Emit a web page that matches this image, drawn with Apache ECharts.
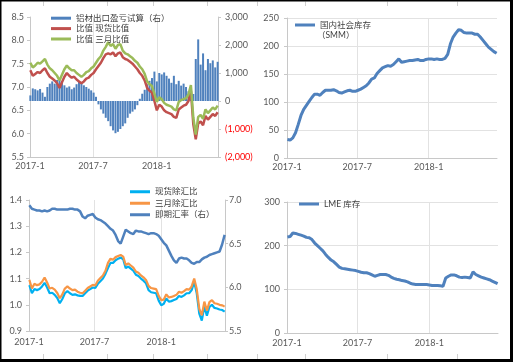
<!DOCTYPE html>
<html><head><meta charset="utf-8">
<script src="https://cdn.jsdelivr.net/npm/echarts@6/dist/echarts.min.js"></script>
<style>html,body{margin:0;padding:0;background:#fff}#c{width:513px;height:362px}</style>
</head><body><div id="c"></div><script>
var weeks = ['2017-01-02','2017-01-09','2017-01-16','2017-01-23','2017-01-30','2017-02-06','2017-02-13','2017-02-20','2017-02-27','2017-03-06','2017-03-13','2017-03-20','2017-03-27','2017-04-03','2017-04-10','2017-04-17','2017-04-24','2017-05-01','2017-05-08','2017-05-15','2017-05-22','2017-05-29','2017-06-05','2017-06-12','2017-06-19','2017-06-26','2017-07-03','2017-07-10','2017-07-17','2017-07-24','2017-07-31','2017-08-07','2017-08-14','2017-08-21','2017-08-28','2017-09-04','2017-09-11','2017-09-18','2017-09-25','2017-10-02','2017-10-09','2017-10-16','2017-10-23','2017-10-30','2017-11-06','2017-11-13','2017-11-20','2017-11-27','2017-12-04','2017-12-11','2017-12-18','2017-12-25','2018-01-01','2018-01-08','2018-01-15','2018-01-22','2018-01-29','2018-02-05','2018-02-12','2018-02-19','2018-02-26','2018-03-05','2018-03-12','2018-03-19','2018-03-26','2018-04-02','2018-04-09','2018-04-16','2018-04-23','2018-04-30','2018-05-07','2018-05-14','2018-05-21','2018-05-28','2018-06-04','2018-06-11','2018-06-18','2018-06-25'];
var tickDates = ['2017-01-01','2017-07-01','2018-01-01'];

// top-left
var alExportPL = [200,450,420,380,430,300,150,500,620,700,620,750,720,640,560,480,520,420,480,600,700,640,560,500,440,380,300,150,-120,-300,-450,-600,-720,-900,-1050,-1150,-1100,-1000,-900,-800,-600,-450,-380,-300,-150,80,260,400,600,720,820,1050,700,1000,950,1020,900,800,650,900,600,720,550,620,500,350,150,250,1500,2200,1300,1700,1100,1500,1350,1450,1200,1400];
var spotRatio = [7.36,7.24,7.28,7.32,7.30,7.36,7.40,7.30,7.22,7.18,7.14,7.08,6.98,7.10,7.22,7.30,7.24,7.20,7.22,7.16,7.12,7.08,7.12,7.18,7.20,7.26,7.30,7.38,7.45,7.52,7.62,7.70,7.72,7.70,7.74,7.66,7.72,7.74,7.64,7.60,7.58,7.54,7.50,7.44,7.38,7.30,7.24,7.14,6.98,6.92,6.88,6.70,6.50,6.62,6.58,6.50,6.46,6.44,6.42,6.36,6.34,6.52,6.56,6.60,6.62,6.70,6.92,6.20,5.88,6.22,6.26,6.18,6.38,6.30,6.36,6.42,6.38,6.46];
var m3Ratio = [7.52,7.42,7.46,7.52,7.50,7.55,7.60,7.48,7.40,7.36,7.30,7.24,7.14,7.26,7.38,7.46,7.40,7.36,7.36,7.30,7.26,7.22,7.26,7.32,7.34,7.40,7.44,7.52,7.60,7.66,7.78,7.86,7.96,7.88,7.92,7.82,7.90,7.92,7.78,7.72,7.70,7.66,7.62,7.56,7.52,7.44,7.38,7.28,7.12,7.06,7.02,6.86,6.68,6.78,6.74,6.66,6.62,6.60,6.58,6.52,6.50,6.68,6.72,6.74,6.76,6.84,7.04,6.34,5.98,6.36,6.40,6.32,6.52,6.44,6.50,6.56,6.52,6.60];
// top-right
var smmStock = [33,32,36,45,60,76,87,94,101,108,114,114,112,117,121,121,121,122,120,117,116,118,120,121,119,119,121,123,126,129,134,141,143,151,156,161,163,165,164,167,172,177,171,172,173,174,174,175,176,174,174,176,177,177,176,177,176,176,178,185,204,216,223,229,228,224,223,223,223,221,221,216,210,204,198,194,190,187];
// bottom-left
var spotFx = [1.075,1.044,1.060,1.056,1.060,1.070,1.084,1.066,1.044,1.046,1.038,1.026,1.006,1.022,1.044,1.052,1.044,1.038,1.040,1.036,1.034,1.034,1.044,1.054,1.060,1.066,1.064,1.080,1.090,1.100,1.118,1.140,1.160,1.160,1.170,1.176,1.180,1.174,1.140,1.146,1.138,1.130,1.115,1.110,1.100,1.092,1.082,1.056,1.048,1.046,1.044,1.016,0.998,1.004,1.024,1.012,1.014,1.018,1.022,1.034,1.030,1.036,1.044,1.044,1.056,1.088,1.044,0.966,0.940,0.994,0.958,0.992,1.000,0.988,0.986,0.982,0.980,0.974];
var m3Fx = [1.095,1.062,1.080,1.075,1.078,1.088,1.104,1.085,1.062,1.065,1.058,1.045,1.025,1.040,1.062,1.070,1.062,1.056,1.058,1.050,1.046,1.044,1.054,1.064,1.070,1.076,1.074,1.092,1.102,1.112,1.130,1.160,1.176,1.172,1.182,1.186,1.190,1.184,1.152,1.158,1.150,1.142,1.127,1.122,1.112,1.105,1.095,1.072,1.064,1.062,1.060,1.034,1.018,1.020,1.040,1.028,1.030,1.034,1.038,1.050,1.046,1.052,1.060,1.058,1.070,1.100,1.060,0.985,0.960,1.012,0.978,1.010,1.018,1.006,1.004,1.000,0.998,0.993];
var fxRate = [6.94,6.90,6.89,6.88,6.88,6.87,6.88,6.87,6.88,6.90,6.90,6.89,6.89,6.89,6.89,6.89,6.90,6.90,6.89,6.89,6.87,6.81,6.79,6.82,6.83,6.84,6.80,6.78,6.77,6.75,6.73,6.70,6.67,6.65,6.60,6.53,6.50,6.58,6.66,6.64,6.62,6.61,6.65,6.64,6.64,6.63,6.62,6.61,6.62,6.62,6.61,6.59,6.55,6.51,6.48,6.42,6.36,6.31,6.28,6.33,6.34,6.33,6.33,6.31,6.28,6.27,6.29,6.29,6.32,6.34,6.35,6.37,6.38,6.39,6.40,6.41,6.49,6.60];
// bottom-right
var lmeStock = [220,221,229,228,226,224,222,219,218,214,206,200,194,188,180,173,167,163,157,151,148,147,146,145,144,143,141,139,138,138,136,133,130,132,134,134,134,132,128,125,123,122,120,119,117,114,112,111,111,111,111,111,110,109,109,109,108,107,126,130,133,133,131,128,127,128,127,126,140,134,131,128,126,124,122,119,116,113];

var FONT = 'Lato, "Noto Sans CJK SC", sans-serif';
var LBL = '#595959', AX = '#c8c8c8', SPL = '#e2e2e2';
function ts(s){var p=s.split('-');return +new Date(+p[0],+p[1]-1,+p[2]);}
function pairs(vals){return vals.map(function(v,i){return [ts(weeks[i]), v];});}
var tickTs = tickDates.map(ts);
var xMin = ts('2017-01-01'), xMax = ts('2018-06-26');
function xAxis(g, margin){
  return {type:'value', gridIndex:g, min:xMin, max:xMax, scale:true,
    axisLine:{show:true, onZero:false, lineStyle:{color:AX}},
    axisTick:{show:false, customValues:tickTs},
    axisLabel:{customValues:tickTs, margin:margin, color:LBL, fontSize:9, fontFamily:FONT,
      formatter:function(v){var d=new Date(+v);return d.getFullYear()+'-'+(d.getMonth()+1);}},
    splitLine:{show:true, lineStyle:{color:SPL}}};
}
function yAxis(g, o){
  var base = {type:'value', gridIndex:g,
    axisLine:{show:true, lineStyle:{color:AX}},
    axisTick:{show:true, length:3, lineStyle:{color:AX}},
    axisLabel:{color:LBL, fontSize:9, fontFamily:FONT},
    splitLine:{show:false, lineStyle:{color:SPL}}};
  for (var k in o){ if (typeof o[k]==='object' && base[k]) Object.assign(base[k], o[k]); else base[k]=o[k]; }
  return base;
}
function fmtK(n){return n.toString().replace(/\B(?=(\d{3})+(?!\d))/g, ',');}
var legBase = {orient:'vertical', icon:'rect', itemWidth:20, itemHeight:3, itemGap:0, padding:0,
  textStyle:{fontSize:8.5, color:'#404040', fontFamily:FONT}};
function leg(o, lh){var l = JSON.parse(JSON.stringify(legBase)); Object.assign(l, o); l.textStyle.lineHeight = lh; return l;}

var deco = [];
[43,107,153,207,257,305,387,457].forEach(function(x){
  deco.push({type:'line', shape:{x1:x+0.5,y1:1.5,x2:x+0.5,y2:6}, style:{stroke:'#d0d0d0', lineWidth:1}});
  deco.push({type:'line', shape:{x1:x+0.5,y1:354,x2:x+0.5,y2:359}, style:{stroke:'#d0d0d0', lineWidth:1}});
});
deco.push({type:'text', left:317, top:31, style:{text:'（SMM）', fontSize:8.5, fill:'#404040', fontFamily:FONT}});
deco.push({type:'rect', shape:{x:0,y:0,width:1.5,height:362}, style:{fill:'#000'}});
deco.push({type:'rect', shape:{x:0,y:0,width:513,height:1.5}, style:{fill:'#000'}});
deco.push({type:'rect', shape:{x:510,y:0,width:3,height:362}, style:{fill:'#000'}});
deco.push({type:'rect', shape:{x:0,y:359,width:513,height:3}, style:{fill:'#000'}});

var chart = echarts.init(document.getElementById('c'), null, {renderer:'canvas'});
chart.setOption({
  backgroundColor:'#fff',
  animation:false,
  grid:[
    {left:30, right:295, top:17, bottom:205},
    {left:287, right:16, top:18, bottom:204},
    {left:29, right:288, top:200, bottom:31},
    {left:287, right:15, top:202, bottom:29}
  ],
  xAxis:[xAxis(0,5), xAxis(1,5), xAxis(2,7), xAxis(3,6)],
  yAxis:[
    yAxis(0,{min:5.5,max:8.5,interval:0.5, axisLabel:{margin:6, formatter:function(v){return v.toFixed(1);}}}),
    yAxis(0,{position:'right', min:-2000,max:3000,interval:1000,
      axisLabel:{margin:7, formatter:function(v){return v<0?'('+fmtK(-v)+')':fmtK(v);},
        color:function(v){return parseFloat(v)<0?'#ff0000':LBL;}}}),
    yAxis(1,{min:0,max:250,interval:50, axisLabel:{margin:8}, splitLine:{show:true}}),
    yAxis(2,{min:0.9,max:1.4,interval:0.1, axisLabel:{margin:7, formatter:function(v){return v.toFixed(1);}}}),
    yAxis(2,{position:'right', min:5.5,max:7.0,interval:0.5, axisLabel:{margin:4, formatter:function(v){return v.toFixed(1);}}}),
    yAxis(3,{min:0,max:300,interval:100, axisLabel:{margin:7}, splitLine:{show:true}})
  ],
  legend:[
    leg({left:51, top:13, data:['铝材出口盈亏试算（右）','比值 现货比值','比值 三月比值']}, 10.4),
    leg({left:295, top:20, data:['国内社会库存']}, 10),
    leg({left:130, top:186, data:['现货除汇比','三月除汇比','即期汇率（右）']}, 11.5),
    leg({left:299, top:199, data:['LME 库存']}, 10)
  ],
  graphic:deco,
  series:[
    {name:'铝材出口盈亏试算（右）', type:'bar', xAxisIndex:0, yAxisIndex:1, data:pairs(alExportPL), barWidth:2, itemStyle:{color:'#4F81BD'}},
    {name:'比值 现货比值', type:'line', xAxisIndex:0, yAxisIndex:0, data:pairs(spotRatio), showSymbol:false, lineStyle:{color:'#C0504D', width:2.5}, itemStyle:{color:'#C0504D'}},
    {name:'比值 三月比值', type:'line', xAxisIndex:0, yAxisIndex:0, data:pairs(m3Ratio), showSymbol:false, lineStyle:{color:'#9BBB59', width:2.5}, itemStyle:{color:'#9BBB59'}},
    {name:'国内社会库存', type:'line', xAxisIndex:1, yAxisIndex:2, data:pairs(smmStock), showSymbol:false, lineStyle:{color:'#4F81BD', width:3}, itemStyle:{color:'#4F81BD'}},
    {name:'现货除汇比', type:'line', xAxisIndex:2, yAxisIndex:3, data:pairs(spotFx), showSymbol:false, lineStyle:{color:'#00B0F0', width:2.2}, itemStyle:{color:'#00B0F0'}},
    {name:'三月除汇比', type:'line', xAxisIndex:2, yAxisIndex:3, data:pairs(m3Fx), showSymbol:false, lineStyle:{color:'#F79646', width:2.2}, itemStyle:{color:'#F79646'}},
    {name:'即期汇率（右）', type:'line', xAxisIndex:2, yAxisIndex:4, data:pairs(fxRate), showSymbol:false, lineStyle:{color:'#4F81BD', width:2.5}, itemStyle:{color:'#4F81BD'}},
    {name:'LME 库存', type:'line', xAxisIndex:3, yAxisIndex:5, data:pairs(lmeStock), showSymbol:false, lineStyle:{color:'#4F81BD', width:3}, itemStyle:{color:'#4F81BD'}}
  ]
});
</script></body></html>
